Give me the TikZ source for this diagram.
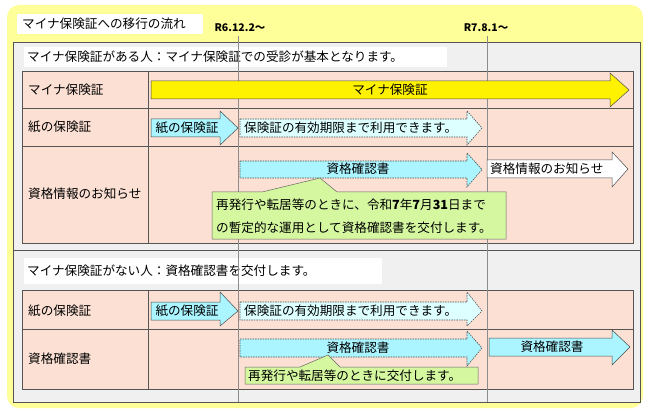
\documentclass[tikz,border=0pt]{standalone}
\usepackage{fontspec}
\setmainfont{Noto Sans CJK JP}
\definecolor{ybg}{HTML}{FFFF99}
\definecolor{pan}{HTML}{F0F0F0}
\definecolor{cell}{HTML}{FCE0D4}
\definecolor{cyanA}{HTML}{AAF5FF}
\definecolor{cyanB}{HTML}{DDFFFF}
\definecolor{callg}{HTML}{D4F7A0}
\definecolor{lineg}{HTML}{555555}
\tikzset{
  txt/.style={font=\fontsize{12.6}{14}\selectfont, inner sep=0pt},
  lbl/.style={txt, anchor=west},
  cellbox/.style={fill=cell, draw=lineg, line width=0.6pt},
  arrsolid/.style={draw=black!70, line width=0.5pt},
  arrdash/.style={draw=black!70, line width=0.6pt, dashed, dash pattern=on 1.5pt off 1pt},
}
% \arrw{style}{x1}{x2}{bodytop}{bodybot}{headtop}{headbot}{headstart}
\newcommand{\arrw}[8]{\path[#1] (#2,#4)--(#8,#4)--(#8,#6)--(#3,{(#4+#5)/2})--(#8,#7)--(#8,#5)--(#2,#5)--cycle;}
\begin{document}
\begin{tikzpicture}[x=1pt,y=-1pt]
\useasboundingbox (0,0) rectangle (650,414);
\fill[white] (0,0) rectangle (650,414);
\fill[ybg] (7,5) [rounded corners=12pt] rectangle (643,408);
\fill[white] (17,14) rectangle (203,34);
\node[lbl] (tt) at (22,24) {マイナ保険証への移行の流れ};
\node[txt, font=\bfseries\fontsize{10.5}{12}\selectfont] (d1) at (240,28) {R6.12.2～};
\node[txt, font=\bfseries\fontsize{10.5}{12}\selectfont] (d2) at (486,28) {R7.8.1～};
% panels
\path[fill=pan, draw=lineg, line width=0.6pt] (13,42) rectangle (640,250);
\path[fill=pan, draw=lineg, line width=0.6pt] (13,250) rectangle (640,402);
\fill[white] (24,47) rectangle (447,67);
\node[lbl] (s1) at (27,57) {マイナ保険証がある人：マイナ保険証での受診が基本となります。};
\fill[white] (24,258) rectangle (382,284);
\node[lbl] (s2) at (27,271) {マイナ保険証がない人：資格確認書を交付します。};
% table 1
\path[cellbox] (22,71) rectangle (633,243);
\draw[lineg, line width=0.6pt] (22,108)--(633,108) (22,146)--(633,146) (148,71)--(148,243);
% table 2
\path[cellbox] (22,290) rectangle (633,389);
\draw[lineg, line width=0.6pt] (22,329)--(633,329) (148,290)--(148,389);
% date lines
\draw[black!45, line width=0.4pt] (238,36)--(238,402) (487,36)--(487,402);
% row labels
\node[lbl] (r1) at (28,89.5) {マイナ保険証};
\node[lbl] (r2) at (28,127) {紙の保険証};
\node[lbl] (r3) at (28,194) {資格情報のお知らせ};
\node[lbl] (r4) at (28,311) {紙の保険証};
\node[lbl] (r5) at (28,359) {資格確認書};
% arrows table 1
\arrw{fill=yellow, arrsolid}{151}{629}{81}{99}{73}{107}{610}
\node[txt] (a1) at (390,90) {マイナ保険証};
\arrw{fill=cyanA, arrsolid}{151}{238}{119}{137}{111}{145}{220}
\node[txt] (a2) at (187,128) {紙の保険証};
\arrw{fill=cyanB, arrdash}{240}{482}{119}{137}{111}{145}{467}
\node[lbl] (a3) at (244,128) {保険証の有効期限まで利用できます。};
\arrw{fill=cyanA, arrdash}{240}{482}{161}{178}{153}{187}{467}
\node[txt] (a4) at (358,169) {資格確認書};
\arrw{fill=white, arrsolid}{487}{628}{160}{178}{152}{187}{612}
\node[lbl] (a5) at (490,169) {資格情報のお知らせ};
% callout 1
\path[fill=callg, draw=black!60, line width=0.5pt] (212,192)--(262,192)--(320,178)--(337,192)--(506,192)--(506,239)--(212,239)--cycle;
\node[lbl] (c1a) at (216,205) {再発行や転居等のときに、令和\textbf{7}年\textbf{7}月\textbf{31}日まで};
\node[lbl] (c1b) at (216,228) {の暫定的な運用として資格確認書を交付します。};
% arrows table 2
\arrw{fill=cyanA, arrsolid}{151}{238}{302}{320}{292}{326}{220}
\node[txt] (b1) at (187,311) {紙の保険証};
\arrw{fill=cyanB, arrdash}{240}{482}{302}{320}{292}{326}{467}
\node[lbl] (b2) at (244,311) {保険証の有効期限まで利用できます。};
\arrw{fill=cyanA, arrdash}{240}{482}{339}{357}{331}{366}{467}
\node[txt] (b3) at (358,348) {資格確認書};
\arrw{fill=cyanA, arrsolid}{489}{630}{338}{356}{330}{365}{612}
\node[txt] (b4) at (552,347) {資格確認書};
% callout 2
\path[fill=callg, draw=black!60, line width=0.5pt] (245,367)--(300,367)--(328,355)--(340,367)--(478,367)--(478,384)--(245,384)--cycle;
\node[lbl] (c2) at (248,376) {再発行や転居等のときに交付します。};
\end{tikzpicture}
\end{document}
